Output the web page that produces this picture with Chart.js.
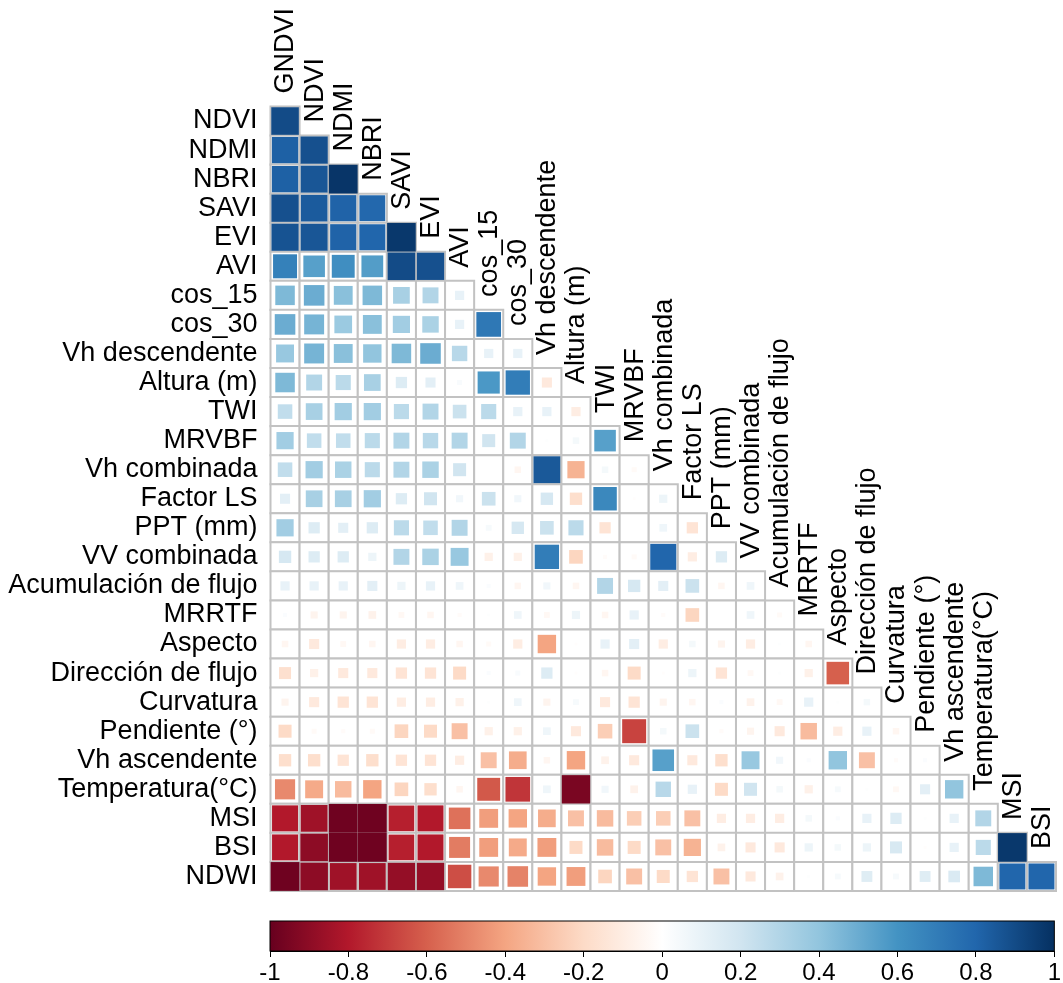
<!DOCTYPE html>
<html>
<head>
<meta charset="utf-8">
<script src="https://cdn.jsdelivr.net/npm/chart.js@4.4.0/dist/chart.umd.min.js"></script>
<style>
  html, body { margin: 0; padding: 0; background: #fff; }
  #wrap { position: relative; width: 1063px; height: 983px; }
  #matriz { position: absolute; left: 0; top: 0; }
  #barra { position: absolute; left: 0; top: 900px; }
</style>
</head>
<body>
<div id="wrap">
  <canvas id="matriz" width="1063" height="983"></canvas>
  <canvas id="barra" width="1063" height="83"></canvas>
</div>
<script>
// variables (columnas = todas menos la ultima, filas = todas menos la primera)
const variables = ["GNDVI", "NDVI", "NDMI", "NBRI", "SAVI", "EVI", "AVI", "cos_15", "cos_30",
  "Vh descendente", "Altura (m)", "TWI", "MRVBF", "Vh combinada", "Factor LS", "PPT (mm)",
  "VV combinada", "Acumulación de flujo", "MRRTF", "Aspecto", "Dirección de flujo", "Curvatura",
  "Pendiente (°)", "Vh ascendente", "Temperatura(°C)", "MSI", "BSI", "NDWI"];
const columnas = variables.slice(0, variables.length - 1);
const filas = variables.slice(1);

// correlaciones por fila (triangulo inferior)
const cNDVI = [0.90];
const cNDMI = [0.82, 0.88];
const cNBRI = [0.82, 0.86, 0.98];
const cSAVI = [0.88, 0.84, 0.81, 0.79];
const cEVI = [0.87, 0.86, 0.81, 0.80, 0.97];
const cAVI = [0.68, 0.55, 0.62, 0.56, 0.90, 0.88];
const cCos15 = [0.45, 0.50, 0.42, 0.45, 0.33, 0.30, 0.10];
const cCos30 = [0.50, 0.47, 0.37, 0.42, 0.35, 0.32, 0.10, 0.72];
const cVhDesc = [0.38, 0.47, 0.42, 0.40, 0.45, 0.50, 0.28, 0.10, 0.10];
const cAltura = [0.45, 0.30, 0.27, 0.33, 0.15, 0.12, 0.03, 0.58, 0.70, -0.12];
const cTWI = [0.25, 0.33, 0.35, 0.35, 0.27, 0.30, 0.22, 0.27, 0.10, 0.10, -0.10];
const cMRVBF = [0.35, 0.25, 0.25, 0.27, 0.30, 0.28, 0.30, 0.20, 0.30, 0.01, 0.05, 0.55];
const cVhComb = [0.25, 0.35, 0.32, 0.27, 0.30, 0.32, 0.20, 0.00, -0.05, 0.85, -0.35, 0.05, -0.03];
const cFactorLS = [0.12, 0.33, 0.33, 0.35, 0.15, 0.20, 0.06, 0.22, 0.06, 0.18, -0.18, 0.65, -0.01, 0.08];
const cPPT = [0.35, 0.15, 0.12, 0.15, 0.27, 0.25, 0.30, 0.04, 0.18, 0.22, 0.27, -0.15, 0.00, 0.07, -0.15];
const cVVComb = [0.18, 0.15, 0.15, 0.08, 0.30, 0.32, 0.38, -0.08, -0.08, 0.70, -0.22, -0.02, -0.03, 0.80, -0.10, 0.15];
const cAcum = [0.10, 0.10, 0.10, 0.12, 0.08, 0.10, 0.07, 0.02, -0.05, 0.06, -0.05, 0.30, 0.18, 0.12, 0.22, -0.05, 0.07];
const cMRRTF = [0.02, -0.06, -0.06, -0.07, -0.04, -0.05, -0.02, 0.01, 0.07, -0.04, 0.08, -0.05, 0.10, -0.02, -0.22, 0.00, 0.07, -0.03];
const cAspecto = [-0.05, -0.12, -0.04, -0.05, -0.10, -0.10, -0.05, -0.03, -0.10, -0.40, -0.01, 0.10, 0.12, -0.10, 0.05, -0.06, -0.10, 0.01, -0.05];
const cDireccion = [-0.17, -0.08, -0.12, -0.12, -0.15, -0.15, -0.20, 0.02, 0.03, 0.15, -0.01, -0.05, -0.20, -0.01, 0.08, -0.15, -0.04, 0.01, -0.08, -0.60];
const cCurvatura = [-0.06, -0.12, -0.15, -0.15, -0.10, -0.10, -0.08, 0.01, 0.07, -0.06, 0.04, -0.12, -0.15, -0.06, -0.05, 0.02, -0.07, -0.04, 0.10, 0.01, 0.05];
const cPendiente = [-0.20, -0.03, -0.02, -0.03, -0.22, -0.20, -0.30, -0.08, -0.08, 0.07, -0.12, -0.25, -0.68, 0.05, 0.22, -0.02, -0.06, -0.12, -0.32, -0.10, 0.10, -0.05];
const cVhAsc = [-0.18, -0.18, -0.15, -0.18, -0.15, -0.15, -0.10, -0.30, -0.37, -0.05, -0.40, -0.07, -0.12, 0.55, -0.12, -0.18, 0.38, 0.06, 0.02, 0.40, -0.30, -0.02, 0.02];
const cTemp = [-0.48, -0.38, -0.32, -0.40, -0.22, -0.18, -0.05, -0.62, -0.72, 0.07, -0.95, 0.06, -0.07, 0.28, 0.10, -0.20, 0.20, 0.05, -0.08, 0.04, 0.01, -0.04, 0.12, 0.40];
const cMSI = [-0.80, -0.85, -0.98, -0.98, -0.78, -0.80, -0.55, -0.42, -0.40, -0.37, -0.30, -0.32, -0.25, -0.25, -0.30, -0.10, -0.10, -0.10, 0.05, 0.02, 0.10, 0.15, 0.01, 0.10, 0.30];
const cBSI = [-0.80, -0.90, -0.98, -0.98, -0.78, -0.80, -0.52, -0.42, -0.38, -0.42, -0.20, -0.32, -0.20, -0.30, -0.35, -0.07, -0.12, -0.12, 0.08, 0.05, 0.08, 0.17, -0.01, 0.10, 0.27, 0.97];
const cNDWI = [-0.98, -0.90, -0.85, -0.85, -0.88, -0.88, -0.65, -0.48, -0.50, -0.40, -0.42, -0.22, -0.30, -0.20, -0.15, -0.30, -0.12, -0.07, 0.01, 0.04, 0.14, 0.04, 0.14, 0.16, 0.45, 0.80, 0.80];

const correlaciones = [cNDVI, cNDMI, cNBRI, cSAVI, cEVI, cAVI, cCos15, cCos30, cVhDesc, cAltura,
  cTWI, cMRVBF, cVhComb, cFactorLS, cPPT, cVVComb, cAcum, cMRRTF, cAspecto, cDireccion,
  cCurvatura, cPendiente, cVhAsc, cTemp, cMSI, cBSI, cNDWI];

// escala de colores RdBu (corrplot)
const paleta = ["#67001F", "#B2182B", "#D6604D", "#F4A582", "#FDDBC7", "#FFFFFF",
  "#D1E5F0", "#92C5DE", "#4393C3", "#2166AC", "#053061"];
const ticksBarra = [-1, -0.8, -0.6, -0.4, -0.2, 0, 0.2, 0.4, 0.6, 0.8, 1];

const fuente = "'Liberation Sans', Arial, sans-serif";

function hexRgb(h) {
  return [parseInt(h.substr(1, 2), 16), parseInt(h.substr(3, 2), 16), parseInt(h.substr(5, 2), 16)];
}

function colorDe(v) {
  const t = (v + 1) / 2 * (paleta.length - 1);
  const i = Math.max(0, Math.min(Math.floor(t), paleta.length - 2));
  const f = t - i;
  const a = hexRgb(paleta[i]), b = hexRgb(paleta[i + 1]);
  const c = a.map((x, k) => Math.round(x + (b[k] - x) * f));
  return `rgb(${c[0]},${c[1]},${c[2]})`;
}

const puntos = [];
correlaciones.forEach((fila, r) => {
  fila.forEach((v, c) => puntos.push({ x: c, y: r, v: v }));
});

function anchoCelda(chart) {
  const sx = chart.scales.x;
  return sx.getPixelForValue(1) - sx.getPixelForValue(0);
}

// etiquetas de columnas sobre la diagonal
const etiquetasDiagonal = {
  id: "etiquetasDiagonal",
  afterDraw(chart) {
    const ctx = chart.ctx;
    const sx = chart.scales.x, sy = chart.scales.y;
    ctx.save();
    ctx.font = "27px " + fuente;
    ctx.fillStyle = "#000";
    ctx.textAlign = "left";
    ctx.textBaseline = "middle";
    columnas.forEach((nombre, j) => {
      const x = sx.getPixelForValue(j);
      const y = sy.getPixelForValue(j - 0.5) - 13;
      ctx.save();
      ctx.translate(x + 1, y);
      ctx.rotate(-Math.PI / 2);
      ctx.fillText(nombre, 0, 0);
      ctx.restore();
    });
    ctx.restore();
  }
};

new Chart(document.getElementById("matriz"), {
  type: "scatter",
  data: {
    datasets: [
      {
        data: puntos,
        pointStyle: "rect",
        pointRadius: (c) => Math.sqrt(Math.abs(c.raw.v)) * anchoCelda(c.chart) / Math.SQRT2,
        backgroundColor: (c) => colorDe(c.raw.v),
        borderColor: (c) => colorDe(c.raw.v),
        borderWidth: 0,
        clip: false
      },
      {
        data: puntos,
        pointStyle: "rect",
        pointRadius: (c) => anchoCelda(c.chart) / Math.SQRT2,
        backgroundColor: "#FFFFFF",
        borderColor: "#C2C2C2",
        borderWidth: 2,
        clip: false
      }
    ]
  },
  options: {
    responsive: false,
    animation: false,
    events: [],
    layout: { padding: { left: 0, right: 7, top: 106.5, bottom: 92 } },
    plugins: { legend: { display: false }, tooltip: { enabled: false } },
    scales: {
      x: { type: "linear", min: -0.5, max: 26.5, display: false },
      y: {
        type: "linear",
        min: -0.5,
        max: 26.5,
        reverse: true,
        grid: { display: false, drawTicks: false },
        border: { display: false },
        afterFit: (s) => { s.width = 270.5; },
        afterBuildTicks: (s) => { s.ticks = filas.map((_, i) => ({ value: i })); },
        ticks: {
          autoSkip: false,
          padding: 13,
          color: "#000",
          font: { family: fuente, size: 27 },
          callback: (v, i) => filas[i]
        }
      }
    }
  },
  plugins: [etiquetasDiagonal]
});

// barra de color
const degradado = {
  id: "degradado",
  beforeDatasetsDraw(chart) {
    const a = chart.chartArea;
    const ctx = chart.ctx;
    const g = ctx.createLinearGradient(a.left, 0, a.right, 0);
    paleta.forEach((col, i) => g.addColorStop(i / (paleta.length - 1), col));
    ctx.save();
    ctx.fillStyle = g;
    ctx.fillRect(a.left, a.top, a.right - a.left, a.bottom - a.top);
    ctx.strokeStyle = "#000";
    ctx.lineWidth = 1;
    ctx.strokeRect(a.left, a.top, a.right - a.left, a.bottom - a.top);
    ctx.restore();
  }
};

new Chart(document.getElementById("barra"), {
  type: "scatter",
  data: { datasets: [] },
  options: {
    responsive: false,
    animation: false,
    events: [],
    layout: { padding: { left: 270, right: 7, top: 21, bottom: 0 } },
    plugins: { legend: { display: false }, tooltip: { enabled: false } },
    scales: {
      x: {
        type: "linear",
        min: -1,
        max: 1,
        afterBuildTicks: (s) => { s.ticks = ticksBarra.map((v) => ({ value: v })); },
        afterFit: (s) => { s.height = 32; },
        grid: { drawOnChartArea: false, color: "#000", tickLength: 6 },
        border: { color: "#000" },
        ticks: {
          autoSkip: false,
          maxRotation: 0,
          padding: 2,
          color: "#000",
          font: { family: fuente, size: 24 },
          callback: (v) => String(v)
        }
      },
      y: { display: false, min: 0, max: 1 }
    }
  },
  plugins: [degradado]
});
</script>
</body>
</html>
